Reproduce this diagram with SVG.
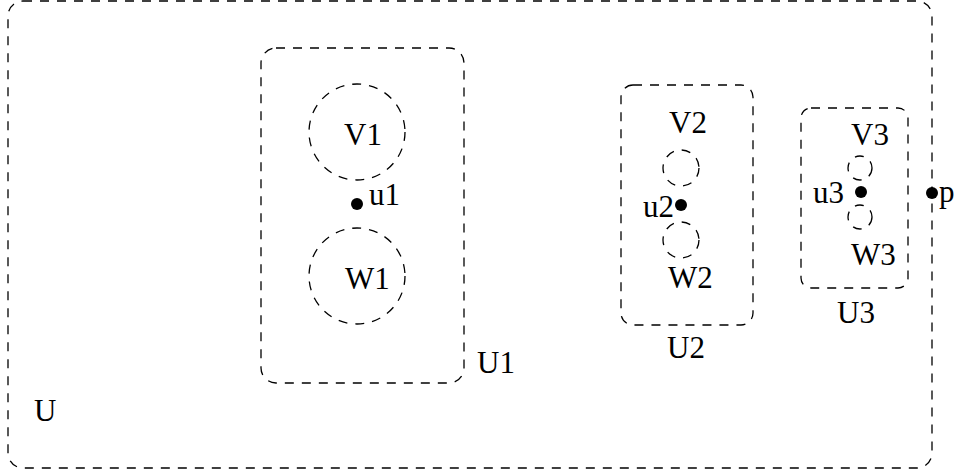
<svg xmlns="http://www.w3.org/2000/svg" width="958" height="471" viewBox="0 0 958 471">
<style>
.d{fill:none;stroke:#000;stroke-width:1.3;stroke-dasharray:9 8}
.t{font-family:"Liberation Serif","Times New Roman",serif;font-size:31px;fill:#000}
.dot{fill:#000}
</style>
<rect width="958" height="471" fill="#fff"/>
<g id="U">
<rect class="d" x="8" y="1" width="924" height="467" rx="15" ry="15"/>
<text class="t" x="34" y="421">U</text>
</g>
<g id="U1">
<rect class="d" x="261" y="48" width="203" height="335" rx="15" ry="15"/>
<text class="t" x="477" y="373">U1</text>
</g>
<g id="V1">
<circle class="d" cx="357" cy="132" r="48"/>
<text class="t" x="344" y="145">V1</text>
</g>
<g id="W1">
<circle class="d" cx="357" cy="276" r="48"/>
<text class="t" x="345" y="289">W1</text>
</g>
<g id="u1">
<circle class="dot" cx="357" cy="204" r="6"/>
<text class="t" x="369" y="205">u1</text>
</g>
<g id="U2">
<rect class="d" x="621" y="85" width="132" height="240" rx="12" ry="12"/>
<text class="t" x="667" y="358">U2</text>
</g>
<g id="V2">
<circle class="d" cx="681" cy="168" r="18"/>
<text class="t" x="669" y="133">V2</text>
</g>
<g id="W2">
<circle class="d" cx="681" cy="240" r="18"/>
<text class="t" x="668" y="288">W2</text>
</g>
<g id="u2">
<circle class="dot" cx="681" cy="205" r="6"/>
<text class="t" x="643" y="217">u2</text>
</g>
<g id="U3">
<rect class="d" x="801" y="108" width="107" height="180" rx="10" ry="10"/>
<text class="t" x="837" y="323">U3</text>
</g>
<g id="V3">
<circle class="d" cx="860" cy="168" r="12"/>
<text class="t" x="851" y="145">V3</text>
</g>
<g id="W3">
<circle class="d" cx="860" cy="217" r="12"/>
<text class="t" x="851" y="265">W3</text>
</g>
<g id="u3">
<circle class="dot" cx="861" cy="192" r="6"/>
<text class="t" x="813" y="203">u3</text>
</g>
<g id="p">
<circle class="dot" cx="932" cy="193" r="6"/>
<text class="t" x="939" y="202">p</text>
</g>
<g id="connectors"/>
</svg>
